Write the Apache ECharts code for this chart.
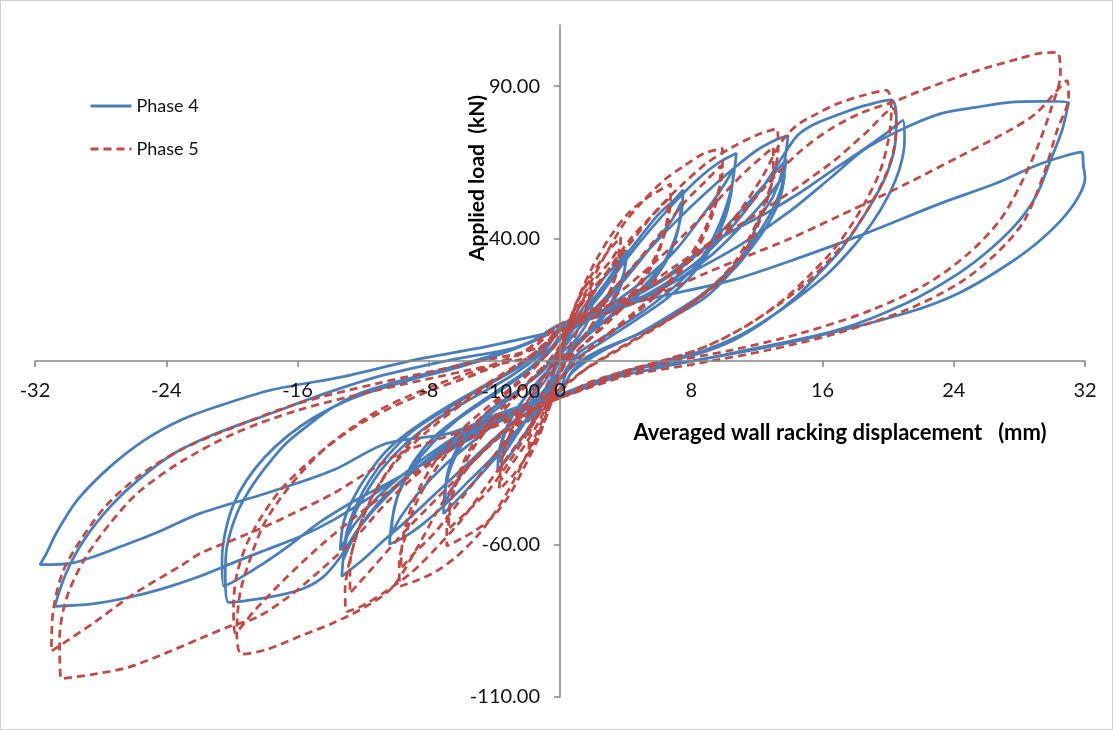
<!DOCTYPE html>
<html><head><meta charset="utf-8">
<script src="https://cdn.jsdelivr.net/npm/echarts@6/dist/echarts.min.js"></script>
<style>
html,body{margin:0;padding:0;background:#fff;}
#frame{position:absolute;left:0;top:0;width:1111px;height:728px;border:1px solid #d0d0d0;}
#chart{position:absolute;left:0;top:0;width:1113px;height:730px;}
</style>
</head><body><div id="frame"></div><div id="chart"></div>
<script>
// ---- Axis ticks ----
const xTicks = [-32, -24, -16, -8, 0, 8, 16, 24, 32];
const yTicks = [-110, -60, -10, 40, 90];
const seriesNames = ['Phase 4', 'Phase 5'];

// ---- Phase 4 : [displacement mm, load kN], grouped by amplitude ----
const p4Amp2 = [[0,0],[0.5,8],[1,14],[1.5,18],[2,21],[1.9,16],[1.5,11],[0.8,6],[0,2],[-0.5,-6],[-1,-12],[-1.5,-17],[-2,-20],[-1.9,-15],[-1.4,-10],[-0.7,-5],[0,1]];
const p4Amp4 = [[0.6,10],[1.5,18],[2.5,26],[3.3,31],[4.1,36],[3.9,29],[3.4,22],[2.6,15],[1.6,9],[0.6,4],[0,-2],[-0.8,-12],[-1.8,-21],[-2.8,-29],[-3.8,-36],[-3.7,-29],[-3.2,-21],[-2.4,-14],[-1.4,-7],[-0.4,-1],[0,4],
  [1,12],[2,20],[3,27],[4,33],[3.8,26],[3.2,19],[2.3,12],[1.2,6],[0,0],[-1,-11],[-2,-19],[-3,-27],[-3.7,-33],[-3.5,-26],[-2.9,-18],[-2,-11],[-1,-5],[0,3]];
const p4Amp8 = [[1,12],[2.2,21],[3.5,31],[4.8,40],[6,48],[7,53],[7.5,56],[7.4,48],[7,40],[6.3,32],[5.2,25],[3.8,18],[2.2,11],[0.8,4],[0,-3],[-1,-12],[-2.2,-20],[-3.5,-29],[-4.8,-37],[-6,-44],[-7.1,-50],[-7,-42],[-6.6,-34],[-5.8,-26],[-4.6,-19],[-3,-12],[-1.5,-5],[0,3],
  [1.2,11],[2.5,18],[4,27],[5.5,37],[6.8,46],[7.4,52],[7.2,43],[6.6,34],[5.6,26],[4.2,19],[2.5,12],[1,5],[0,-3],[-1.2,-11],[-2.5,-18],[-4,-26],[-5.5,-34],[-6.5,-41],[-7,-47],[-6.9,-38],[-6.4,-30],[-5.4,-22],[-4,-15],[-2.4,-9],[-1,-3],[0,4]];
const p4Amp11 = [[1,12],[2.5,22],[4,33],[5.5,43],[7,52],[8.5,60],[9.7,65],[10.75,68],[10.5,58],[10.1,50],[9.4,41],[8.4,32],[6.9,24],[5,16],[3,9],[1,2],[0,-6],[-1,-14],[-2.5,-22],[-4,-31],[-5.5,-39],[-7,-47],[-8.5,-54],[-9.6,-58],[-10.4,-60],[-10.2,-51],[-9.8,-43],[-9,-35],[-7.8,-27],[-6.2,-19],[-4.3,-12],[-2.4,-5],[-0.8,2],[0,7],
  [1.2,12],[3,18],[5,26],[7,36],[8.6,47],[9.8,56],[10.6,63],[10.4,54],[10,46],[9.2,37],[8,28],[6.4,20],[4.5,13],[2.5,6],[0.8,0],[0,-6],[-1.2,-12],[-3,-17],[-5,-25],[-7,-34],[-8.6,-43],[-9.7,-51],[-10.3,-57],[-10.1,-48],[-9.6,-40],[-8.8,-32],[-7.5,-24],[-5.8,-17],[-3.9,-10],[-2,-3],[-0.6,4],[0,8]];
const p4Amp14 = [[1.5,14],[3.5,25],[5.5,37],[7.5,48],[9.5,58],[10.8,64],[12,69],[13.2,72.5],[13.9,73.8],[13.6,63],[13,54],[12.2,47],[11.4,37],[10.4,29],[8.9,21],[6.9,14.5],[4.9,9],[2.4,3.5],[0.5,-3],[0,-9],[-1.5,-15],[-3.5,-23],[-5.5,-33],[-7.5,-43],[-9.5,-53],[-10.8,-59],[-12,-65],[-13.3,-70.5],[-13.1,-60],[-12.6,-51],[-11.8,-43],[-10.8,-35],[-9.4,-27],[-7.5,-19],[-5.3,-12],[-3,-5],[-1,3],[0,10],
  [2,15],[4.5,21],[7,29],[9.2,39],[11,49],[12.5,58],[13.8,66],[13.5,57],[12.9,49],[12,41],[10.9,33],[9.4,25],[7.4,17],[5.2,10],[2.8,4],[0.8,-3],[0,-10],[-2,-15],[-4.5,-20],[-7,-28],[-9.2,-37],[-11,-46],[-12.4,-56],[-13.2,-65],[-13,-56],[-12.4,-47],[-11.6,-39],[-10.5,-31],[-9,-23],[-7,-16],[-4.8,-9],[-2.5,-2],[-0.8,5],[0,10],
  [2,14],[4.5,19],[7,26],[9.3,35],[11.2,45],[12.7,54],[13.7,61],[13.4,53],[12.7,45],[11.8,38],[10.6,30],[9,23],[7,16],[4.8,9],[2.5,3],[0.7,-4],[0,-10],[-2,-14],[-4.5,-19],[-7,-27],[-9.3,-36],[-11.2,-45],[-12.6,-54],[-13.4,-62],[-13.2,-53],[-12.6,-45],[-11.7,-37],[-10.5,-29],[-8.9,-22],[-6.9,-15],[-4.6,-8],[-2.3,-1],[-0.7,6],[0,11]];
const p4Amp20 = [[2,14],[5,21],[8,31],[10.5,44],[12.5,58],[13.7,68],[14.5,74],[15.5,77.5],[16.9,80.5],[18.5,83.5],[20.2,85.5],[20.5,80],[20.4,70],[19.9,61],[19.1,52.6],[18.1,44],[17.1,36.3],[15.8,28.7],[14.4,21],[12.6,13.4],[10.6,6.9],[8.5,2.5],[5.5,-1.5],[2.5,-6],[0,-11],[-2,-15],[-5,-22],[-8,-32],[-10.5,-44],[-12.3,-55],[-13.5,-65],[-14.5,-71],[-15.8,-74.8],[-17.9,-77.5],[-20.2,-79],[-20.4,-70],[-20.3,-60.7],[-19.7,-50],[-18.9,-42],[-17.9,-34.5],[-16.7,-27],[-15.2,-20.4],[-13.8,-15],[-12.2,-10.6],[-10.6,-7.8],[-8.7,-5],[-7.3,-3],[-4,2],[-1.5,7],[0,12],
  [2,15],[4,20],[6.3,27],[8.5,36],[10.5,42.5],[12.6,48.5],[14.6,55],[16.6,62.4],[18.7,70],[20,75],[20.9,78.8],[21,72],[20.7,63],[20,54],[19,45],[17.8,37],[16.4,29],[14.8,22],[13,15],[11,8.5],[8.8,3.5],[6,-0.5],[3,-5],[0,-12],[-2,-15],[-4,-20],[-6.3,-27],[-8.5,-34],[-10.5,-40],[-12.6,-46],[-14.7,-53],[-16.4,-60],[-18,-66],[-19.5,-71],[-20.5,-73.7],[-20.6,-65],[-20.4,-56],[-19.9,-47],[-19.1,-39],[-18,-31.5],[-16.6,-24.5],[-15,-18.5],[-13.2,-13.5],[-11.2,-9.5],[-9,-6],[-6.5,-2.5],[-3.5,2.5],[-1,8],[0,12]];
const p4Amp32 = [[2,15],[5,21],[8,29],[11,38],[14,49],[16.5,60],[18.5,69],[20.7,75.5],[23.2,81],[25.3,83],[27.4,84.7],[29.5,85],[31,84.7],[30.6,75.5],[29.9,65.7],[29.1,54.9],[28,46],[26.4,37.4],[24.3,28.7],[21.1,18.9],[16.9,10.1],[10.5,2.6],[6.3,-1.9],[3,-6],[0,-12],[-2,-15],[-5,-24],[-7.5,-31.5],[-9.75,-37.8],[-11.8,-45.4],[-13.8,-52],[-15.8,-57.4],[-17.9,-61.8],[-19.9,-66],[-21.9,-70.4],[-24.2,-74.5],[-26.4,-77.5],[-28.5,-79.5],[-30.8,-80.3],[-30.1,-69.4],[-29,-58.5],[-27.4,-47.6],[-25.7,-38.9],[-23.5,-30.2],[-20.9,-23.6],[-17.6,-17.1],[-14.3,-10.6],[-11.1,-5.1],[-6.7,0.3],[-2.3,5],[0,12],
  [3,17],[6,21],[10.5,26.5],[14.7,34],[18.6,41.7],[23.2,51.6],[26.5,58],[29.3,64.6],[31.8,68.4],[31.9,64],[32,60],[31.2,50.4],[29.5,40.6],[27.4,32],[24.3,22.2],[21.1,15.7],[14.7,6.9],[8.4,0.3],[4.2,-3],[0,-12],[-3,-16],[-6.7,-23.6],[-10.6,-27],[-13.8,-35.7],[-17.9,-43.3],[-21.9,-49.8],[-24.5,-56],[-26.4,-60],[-29.6,-66],[-31.7,-66.7],[-31.3,-63],[-30.7,-56.3],[-29.4,-45.4],[-27.4,-34.5],[-25.3,-25.8],[-23.1,-19.3],[-20.9,-14.9],[-17.6,-9.5],[-13.2,-5.1],[-8.9,0.3],[-4.5,4.7],[0,10]];

// ---- Phase 5 : [displacement mm, load kN], grouped by amplitude ----
const p5Amp2 = [[0,0],[0.4,9],[0.9,17],[1.4,23],[1.9,27],[1.8,21],[1.4,14],[0.8,7],[0.2,1],[0,-3],[-0.4,-11],[-0.9,-19],[-1.4,-25],[-1.9,-29],[-1.8,-22],[-1.4,-15],[-0.8,-8],[-0.2,-1],[0,3]];
const p5Amp4 = [[0.4,10],[1.1,20],[1.9,28],[2.8,35],[3.7,40.5],[3.6,33],[3.2,25],[2.5,17],[1.6,9],[0.7,3],[0,-3],[-0.4,-11],[-1.1,-21],[-1.9,-30],[-2.8,-37],[-3.7,-42],[-3.6,-34],[-3.2,-26],[-2.5,-18],[-1.6,-10],[-0.7,-3],[0,3],
  [0.5,10],[1.3,19],[2.2,27],[3.1,33],[3.6,37],[3.5,30],[3,22],[2.2,14],[1.3,7],[0.4,1],[0,-3],[-0.5,-11],[-1.3,-20],[-2.2,-28],[-3.1,-35],[-3.6,-39],[-3.5,-31],[-3,-23],[-2.2,-15],[-1.3,-8],[-0.4,-2],[0,3]];
const p5Amp7 = [[0.5,12],[1.3,23],[2.2,33],[3.1,41],[4.1,48],[5.2,53],[6.75,58],[6.7,50],[6.4,42],[5.8,34],[4.9,26],[3.7,18],[2.3,10],[1,3],[0,-4],[-0.5,-13],[-1.3,-25],[-2.2,-35],[-3.1,-44],[-4.1,-51],[-5.3,-56],[-6.9,-60.6],[-6.9,-53],[-6.6,-45],[-6,-36],[-5.1,-27],[-3.9,-19],[-2.4,-10],[-1,-2],[0,5],
  [0.8,12],[1.9,21],[3.1,31],[4.3,40],[5.5,47],[6.6,53],[6.5,45],[6.1,37],[5.4,29],[4.4,21],[3,13],[1.6,6],[0.4,0],[0,-4],[-0.8,-13],[-1.9,-23],[-3.1,-33],[-4.3,-42],[-5.6,-49],[-6.8,-55],[-6.7,-47],[-6.3,-39],[-5.6,-30],[-4.6,-22],[-3.3,-14],[-1.8,-6],[-0.5,1],[0,4]];
const p5Amp10 = [[0.8,14],[1.8,25],[2.8,35],[3.9,45],[5,52],[6.3,59],[7.6,64],[8.8,68],[9.9,69.6],[9.9,62],[9.5,53],[8.9,44],[8,35],[6.8,27],[5.2,19],[3.4,11],[1.6,3],[0,-6],[-0.8,-16],[-1.8,-28],[-2.8,-39],[-3.9,-49],[-5,-57],[-6.3,-64],[-7.6,-69],[-8.8,-72],[-9.75,-73.7],[-9.8,-66],[-9.4,-57],[-8.8,-47],[-7.9,-38],[-6.7,-29],[-5.1,-20],[-3.3,-11],[-1.5,-2],[0,7],
  [1.2,13],[2.7,20],[4.3,30],[6,41],[7.6,52],[8.9,59],[9.8,64],[9.7,56],[9.3,48],[8.6,39],[7.6,31],[6.2,23],[4.5,15],[2.6,7],[1,0],[0,-6],[-1.2,-14],[-2.7,-22],[-4.3,-33],[-6,-45],[-7.6,-56],[-8.9,-63],[-9.7,-68],[-9.6,-59],[-9.2,-50],[-8.5,-41],[-7.5,-32],[-6.1,-23],[-4.4,-15],[-2.6,-7],[-1,1],[0,7]];
const p5Amp13 = [[1.5,20],[3,30],[4.5,40],[6,50],[7.5,58],[9,65],[10.5,70],[12,74],[13.2,76],[13.3,70],[13,60],[12.4,49],[11.5,38],[10.3,29],[8.6,21],[6.5,13],[4,5],[1.5,-3],[0,-10],[-1.5,-19],[-3,-30],[-4.5,-41],[-6,-52],[-7.5,-61],[-9,-69],[-10.5,-75],[-12,-80],[-13,-82],[-13.1,-75],[-12.8,-65],[-12.2,-54],[-11.3,-43],[-10,-33],[-8.3,-24],[-6.2,-15],[-3.8,-6],[-1.5,3],[0,10],
  [1.5,15],[3.5,22],[5.5,31],[7.5,41],[9.5,52],[11.3,62],[13,70],[13,62],[12.5,52],[11.7,42],[10.6,32],[9,23],[7,15],[4.5,7],[2,-1],[0,-9],[-1.5,-16],[-3.5,-24],[-5.5,-34],[-7.5,-45],[-9.5,-56],[-11.3,-67],[-12.8,-76],[-12.8,-67],[-12.4,-57],[-11.6,-46],[-10.5,-36],[-9,-26],[-7,-17],[-4.6,-8],[-2,1],[0,9]];
const p5Amp20 = [[2,16],[5,23],[8,33],[10.5,46],[12.3,60],[13.4,71],[14.4,77],[15.5,80.5],[16.9,84.2],[18.5,87],[19.9,88.6],[20.2,82],[20,72],[19.5,62],[18.7,53],[17.7,44],[16.6,36],[15.2,28],[13.6,20],[11.8,13],[9.6,6.5],[7.5,2],[4.5,-2.5],[1.8,-7],[0,-12],[-2,-17],[-4.5,-28],[-7,-45],[-8.8,-62],[-10.2,-74],[-11.8,-80.3],[-13.8,-85.7],[-15.8,-90],[-17.9,-94.5],[-19.4,-96],[-19.7,-89],[-19.5,-76],[-18.9,-65],[-18.1,-54],[-17.1,-45.4],[-15.8,-36.7],[-14.2,-28],[-12.6,-21.5],[-11,-16],[-9.3,-11.7],[-7.3,-7.3],[-4,-1],[-1.5,5],[0,12],
  [2,16],[4.5,22],[7,31],[9.5,40],[12,48],[14.5,57],[16.8,66],[18.7,75],[20.3,82.6],[20.5,77],[20.3,68],[19.7,59],[18.8,50],[17.7,41],[16.4,33],[14.9,25],[13.2,18],[11.2,11],[9,5],[6.5,0.5],[3.5,-4],[0,-12],[-2,-16],[-4.5,-22],[-7,-30],[-9.5,-39],[-12,-49],[-14.5,-60],[-16.7,-71],[-18.5,-81],[-19.8,-89],[-19.9,-80],[-19.7,-70],[-19.1,-60],[-18.2,-51],[-17,-42],[-15.5,-34],[-13.8,-26.5],[-12,-20],[-10,-14.5],[-7.8,-9.5],[-5,-4],[-2.5,2],[0,12]];
const p5Amp30 = [[2,16],[5,23],[8,33],[10.5,45],[12.5,57],[14.5,68],[16.5,76],[18.5,81.5],[20.4,85],[22,88.5],[24,92.5],[26,96],[28,99],[29.3,100.8],[30.3,101],[30.5,94],[29.9,82],[29.1,70],[28,57],[26.8,46],[24.9,35.2],[22.4,25.4],[19,16.7],[14.7,9.1],[10.5,3.6],[6.3,-0.8],[3,-6],[0,-12],[-2,-17],[-5,-24],[-8,-34],[-10.5,-46],[-12.5,-58],[-14.5,-68],[-16.5,-77],[-18.5,-84],[-20.2,-87],[-22,-91],[-24.2,-96],[-26.4,-100.4],[-28.5,-102.6],[-30.4,-104],[-30.5,-91],[-30.1,-78],[-29,-65],[-27.4,-53],[-25.7,-43],[-23.1,-33],[-19.8,-23.6],[-15.9,-16],[-11.1,-9.5],[-5.6,-3],[-1.2,2.6],[0,10],
  [3,16],[6,22],[9,29],[11.8,35.2],[14,40],[16.9,47.2],[19,52.5],[21.1,58],[24.3,66.8],[27.4,75.5],[29,81],[30.3,88.6],[30.9,91.8],[31,86.4],[30.3,75.5],[29.5,61.4],[28.3,46],[26.6,35.2],[24.3,25.4],[21.1,16.7],[16.9,9.1],[12.7,3.6],[8.4,-0.8],[4,-5],[0,-12],[-3,-17],[-6,-23],[-9.75,-30.2],[-11.8,-36.7],[-13.8,-43.3],[-15.8,-48.7],[-17.9,-54],[-19.9,-58.5],[-21.9,-62.9],[-23.1,-67],[-25.9,-76],[-28.5,-86],[-30.3,-92.5],[-31,-95],[-30.9,-82],[-30.3,-69],[-29.2,-58.5],[-27.7,-47.6],[-25.7,-37.8],[-23.1,-29],[-19.8,-21.5],[-15.9,-13.8],[-11.1,-7.3],[-5.6,-0.8],[-1.2,4.7],[0,12]];

const phase4 = [].concat(p4Amp2, p4Amp4, p4Amp8, p4Amp11, p4Amp14, p4Amp20, p4Amp32);
const phase5 = [].concat(p5Amp2, p5Amp4, p5Amp7, p5Amp10, p5Amp13, p5Amp20, p5Amp30);

const FONT = 'Lato, "Liberation Sans", sans-serif';
const AXIS_COLOR = '#868686';
const GRID = {left: 35, right: 28, top: 25, bottom: 33};
const W = 1113, H = 730;
const yMax = 110;
// axes cross at zero: shift the axes into the plot by the library's own offset
const plotW = W - GRID.left - GRID.right, plotH = H - GRID.top - GRID.bottom;
const xAxisOffset = -plotH * (0 - yTicks[0]) / (yMax - yTicks[0]);
const yAxisOffset = -plotW * (0 - xTicks[0]) / (xTicks[xTicks.length - 1] - xTicks[0]);

const chart = echarts.init(document.getElementById('chart'), null, {renderer: 'canvas'});
chart.setOption({
  animation: false,
  textStyle: {fontFamily: FONT},
  grid: Object.assign({containLabel: false, outerBoundsMode: 'none'}, GRID),
  legend: {
    orient: 'vertical', left: 89, top: 97, padding: 0,
    itemWidth: 41, itemHeight: 14, itemGap: 25, itemStyle: {opacity: 0},
    lineStyle: {width: 3},
    data: seriesNames,
    textStyle: {fontSize: 18, color: '#111', fontFamily: FONT}
  },
  xAxis: {
    type: 'value', min: xTicks[0], max: xTicks[xTicks.length - 1], interval: 8,
    position: 'bottom', offset: xAxisOffset, z: 5,
    axisLine: {onZero: false, lineStyle: {color: AXIS_COLOR, width: 1.5}},
    axisTick: {show: true, length: 6, customValues: xTicks, lineStyle: {color: AXIS_COLOR, width: 1.5}},
    splitLine: {show: false},
    axisLabel: {margin: 20, fontSize: 20, color: '#111', fontFamily: FONT, hideOverlap: false,
      showMinLabel: true, showMaxLabel: true, customValues: xTicks, formatter: v => String(v)}
  },
  yAxis: {
    type: 'value', min: yTicks[0], max: yMax, interval: 50,
    position: 'left', offset: yAxisOffset, z: 5,
    axisLine: {onZero: false, lineStyle: {color: AXIS_COLOR, width: 1.5}},
    axisTick: {show: true, length: 6, customValues: yTicks, lineStyle: {color: AXIS_COLOR, width: 1.5}},
    splitLine: {show: false},
    axisLabel: {margin: 20, fontSize: 20, color: '#111', fontFamily: FONT, hideOverlap: false, customValues: yTicks, formatter: v => v.toFixed(2)}
  },
  graphic: [
    {type: 'text', x: 840, y: 433, z: 10,
     style: {text: 'Averaged wall racking displacement   (mm)', font: 'bold 22px ' + FONT, fill: '#000', textAlign: 'center', textVerticalAlign: 'middle', align: 'center', verticalAlign: 'middle'}},
    {type: 'text', x: 477, y: 178, rotation: Math.PI / 2, z: 10,
     style: {text: 'Applied load  (kN)', font: 'bold 21px ' + FONT, fill: '#000', textAlign: 'center', textVerticalAlign: 'middle', align: 'center', verticalAlign: 'middle'}}
  ],
  series: [
    {name: seriesNames[0], type: 'line', data: phase4, symbol: 'none', smooth: 0.3, z: 2,
     lineStyle: {color: '#4a7ebb', width: 2.75}, itemStyle: {color: '#4a7ebb'}},
    {name: seriesNames[1], type: 'line', data: phase5, symbol: 'none', smooth: 0.3, z: 3,
     lineStyle: {color: '#be4b48', width: 2.75, type: [8, 5]}, itemStyle: {color: '#be4b48'}}
  ]
});
</script>
</body></html>
